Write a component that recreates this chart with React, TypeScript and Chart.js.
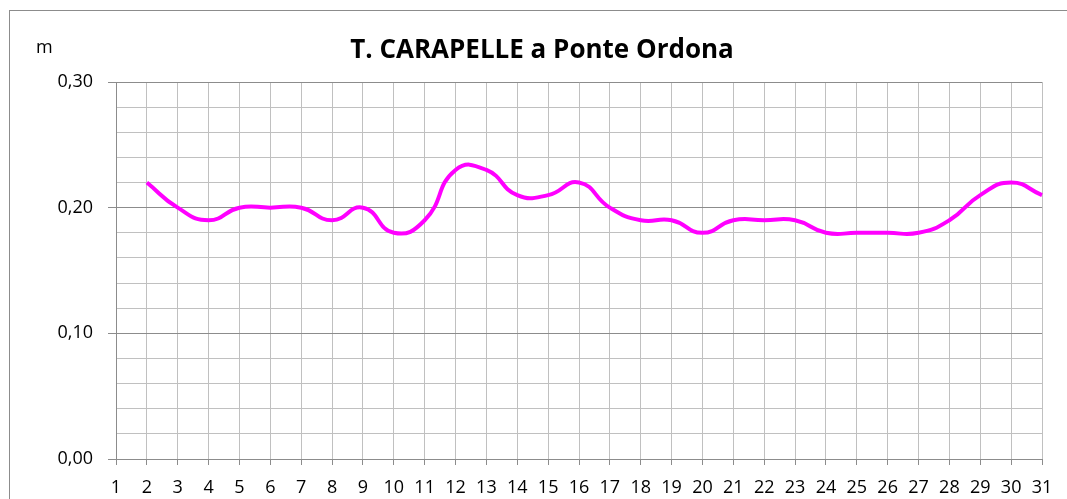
import { useEffect, useRef } from 'react';
import { Chart, registerables } from 'chart.js';

Chart.register(...registerables);

const chartTitle = 'T. CARAPELLE a Ponte Ordona';
const unitLabel = 'm';
const days = ['1', '2', '3', '4', '5', '6', '7', '8', '9', '10', '11', '12', '13', '14', '15', '16', '17', '18', '19', '20', '21', '22', '23', '24', '25', '26', '27', '28', '29', '30', '31'];
const levels: (number | null)[] = [null, 0.22, 0.20, 0.19, 0.20, 0.20, 0.20, 0.19, 0.20, 0.18, 0.19, 0.23, 0.23, 0.21, 0.21, 0.22, 0.20, 0.19, 0.19, 0.18, 0.19, 0.19, 0.19, 0.18, 0.18, 0.18, 0.18, 0.19, 0.21, 0.22, 0.21];
const yMin = 0;
const yMax = 0.3;
const yStep = 0.02;

const FONT = "'Open Sans', sans-serif";

const isMajor = (v: number) => Math.abs(v * 10 - Math.round(v * 10)) < 1e-6;

const framePlugin = {
  id: 'frame',
  beforeDraw(chart: any) {
    const ctx = chart.ctx;
    ctx.save();
    ctx.fillStyle = '#ffffff';
    ctx.fillRect(0, 0, chart.width, chart.height);
    ctx.strokeStyle = '#8c8c8c';
    ctx.lineWidth = 1;
    ctx.strokeRect(9.5, 10.5, 1300, 1000);
    ctx.restore();
  },
  afterDraw(chart: any) {
    const ctx = chart.ctx;
    ctx.save();
    ctx.fillStyle = '#000000';
    ctx.textBaseline = 'alphabetic';
    ctx.textAlign = 'center';
    ctx.font = `bold 26px ${FONT}`;
    ctx.fillText(chartTitle, 542, 58);
    ctx.textAlign = 'left';
    ctx.font = `18px ${FONT}`;
    ctx.fillText(unitLabel, 36, 53);
    ctx.restore();
  },
};

export default function App() {
  const ref = useRef<HTMLCanvasElement>(null);
  useEffect(() => {
    if (!ref.current) return;
    const chart = new Chart(ref.current, {
      type: 'line',
      data: {
        labels: days,
        datasets: [
          {
            data: levels,
            borderColor: '#ff00ff',
            borderWidth: 4,
            tension: 0.5,
            pointRadius: 0,
            fill: false,
            spanGaps: false,
          },
        ],
      },
      options: {
        responsive: false,
        animation: false,
        layout: { padding: { left: 0, top: 82, right: 25, bottom: 0 } },
        plugins: { legend: { display: false }, title: { display: false }, tooltip: { enabled: false } },
        scales: {
          x: {
            type: 'category',
            offset: false,
            afterFit: (s: any) => { s.height = 40; },
            grid: { color: '#c0c0c0', lineWidth: 1, tickColor: '#8c8c8c', tickLength: 6, drawTicks: true },
            border: { color: '#8c8c8c', width: 1 },
            ticks: { color: '#000', font: { family: FONT, size: 18 }, maxRotation: 0, autoSkip: false, padding: 12 },
          },
          y: {
            min: yMin,
            max: yMax,
            afterFit: (s: any) => { s.width = 116; },
            grid: {
              color: (c: any) => (isMajor(c.tick.value) ? '#8c8c8c' : '#c0c0c0'),
              tickColor: (c: any) => (isMajor(c.tick.value) ? '#8c8c8c' : 'rgba(0,0,0,0)'),
              tickLength: 8,
              lineWidth: 1,
            },
            border: { color: '#8c8c8c', width: 1 },
            ticks: {
              stepSize: yStep,
              autoSkip: false,
              color: '#000',
              padding: 15,
              font: { family: FONT, size: 18 },
              callback: (v: any) => (isMajor(Number(v)) ? Number(v).toFixed(2).replace('.', ',') : ''),
            },
          },
        },
      },
      plugins: [framePlugin],
    });
    return () => chart.destroy();
  }, []);
  return (
    <div style={{ position: 'fixed', left: 0, top: 0, width: 1067, height: 499, overflow: 'hidden', background: '#fff' }}>
      <canvas ref={ref} width={1067} height={499} style={{ display: 'block' }} />
    </div>
  );
}
